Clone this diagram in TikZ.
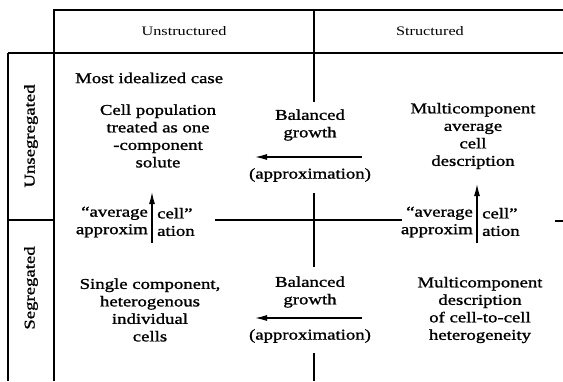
\documentclass[tikz,border=0pt]{standalone}
\usepackage{fontspec}
\setmainfont{Liberation Serif}[FakeStretch=1.25]
\newfontfamily\heavyfont{Liberation Serif}[FakeStretch=1.25, FakeBold=1.3, Ligatures=TeX]
\usetikzlibrary{arrows.meta, positioning}

\begin{document}
\begin{tikzpicture}[
 x=1pt, y=-1pt,
 grid/.style={line width=1.2pt},
 body/.style={align=center, inner sep=0pt, font=\heavyfont\fontsize{15}{17.5}\selectfont},
 head/.style={inner sep=0pt, font=\fontsize{13}{15}\selectfont},
 side/.style={inner sep=0pt, rotate=90, font=\heavyfont\fontsize{15}{17}\selectfont},
 arrow/.style={-{Latex[length=12pt, width=6pt]}, line width=1.3pt}
]
\useasboundingbox (0,0) rectangle (563,381);

% frame and grid lines
\draw[grid] (54,381) -- (54,10) -- (563,10);
\draw[grid] (8,53) -- (563,53);
\draw[grid] (8,53) -- (8,381);
\draw[grid] (8,220) -- (54,220);
\draw[grid] (314,10) -- (314,102);
\draw[grid] (314,193) -- (314,267);
\draw[grid] (314,353) -- (314,381);
\draw[grid] (215,220) -- (402,220);
\draw[grid] (555,221) -- (563,221);

% headers
\node[head] (unstr) at (184,31) {Unstructured};
\node[head] (str) at (430,31) {Structured};
\node[side] (unseg) at (31,136) {Unsegregated};
\node[side] (seg) at (31,288) {Segregated};

% upper row
\node[body, anchor=west] (ideal) at (75,78) {Most idealized case};
\node[body] (solute) at (158,136) {Cell population\\treated as one\\-component\\solute};
\node[body] (avgdesc) at (473,136) {Multicomponent\\average\\cell\\description};
\node[body] (balup) at (310,125) {Balanced\\growth};
\node[body] (apprup) at (310,175) {(approximation)};

% average cell approximation
\node[body, align=right, anchor=east] (avgl) at (148,222) {“average\\approxim};
\node[body, align=left, anchor=west] (celll) at (157,222) {cell”\\ation};
\node[body, align=right, anchor=east] (avgr) at (473,222) {“average\\approxim};
\node[body, align=left, anchor=west] (cellr) at (482,222) {cell”\\ation};

% lower row
\node[body] (single) at (150,310) {Single component,\\heterogenous\\individual\\cells};
\node[body] (hetero) at (480,310) {Multicomponent\\description\\of cell-to-cell\\heterogeneity};
\node[body] (baldown) at (310,292) {Balanced\\growth};
\node[body] (apprdown) at (310,336) {(approximation)};

% arrow ends
\coordinate (upfrom) at (362,157);
\coordinate (upto) at (255,157);
\coordinate (downfrom) at (362,318);
\coordinate (downto) at (255,318);
\coordinate (leftfrom) at (152,243);
\coordinate (leftto) at (152,192);
\coordinate (rightfrom) at (477,243);
\coordinate (rightto) at (477,184);

\draw[arrow] (upfrom) -- (upto);
\draw[arrow] (downfrom) -- (downto);
\draw[arrow] (leftfrom) -- (leftto);
\draw[arrow] (rightfrom) -- (rightto);
\end{tikzpicture}
\end{document}
